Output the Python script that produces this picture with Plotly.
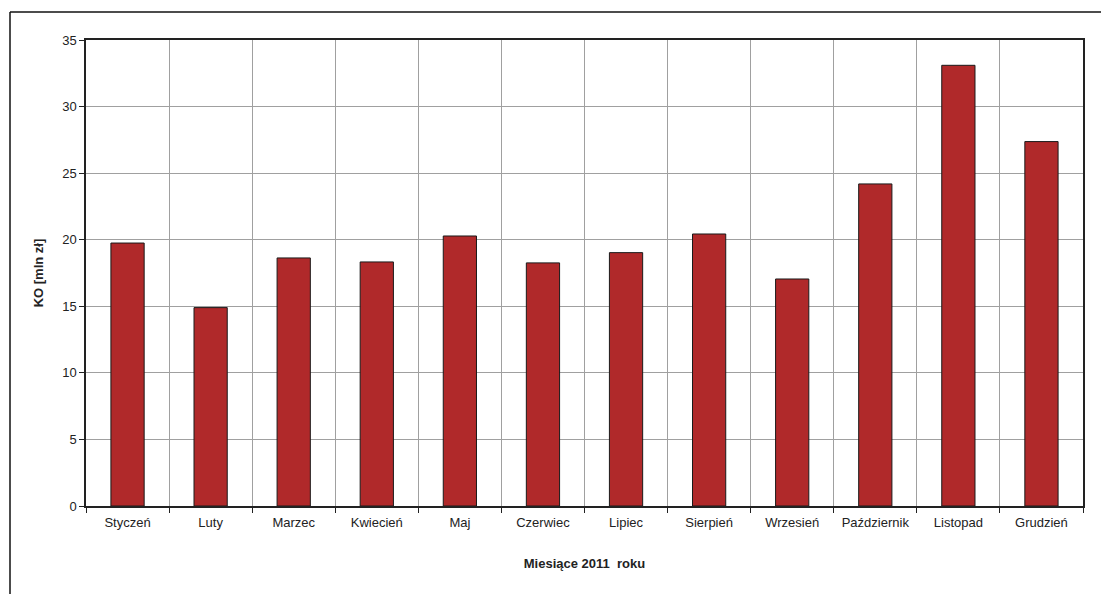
import plotly.graph_objects as go

months = ["Styczeń", "Luty", "Marzec", "Kwiecień", "Maj", "Czerwiec",
          "Lipiec", "Sierpień", "Wrzesień", "Październik", "Listopad", "Grudzień"]
ko_values = [19.75, 14.9, 18.63, 18.33, 20.28, 18.26,
             19.03, 20.43, 17.05, 24.19, 33.1, 27.37]
y_ticks = [0, 5, 10, 15, 20, 25, 30, 35]

W, H = 1101, 594
ML, MR, MT, MB = 86, 18, 40, 88
pw, ph = W - ML - MR, H - MT - MB

def px_x(x):
    return (x - ML) / pw

def px_y(y):
    return (H - MB - y) / ph

fig = go.Figure(go.Bar(
    x=months, y=ko_values, width=0.4,
    marker=dict(color="#B0292A", line=dict(color="#1a1a1a", width=1)),
))

font = "Liberation Sans, Arial, sans-serif"
fig.update_layout(
    width=W, height=H,
    margin=dict(l=ML, r=MR, t=MT, b=MB),
    paper_bgcolor="white", plot_bgcolor="white",
    font=dict(family=font, size=13, color="#222"),
    showlegend=False,
    bargap=0.6,
    xaxis=dict(
        tickson="boundaries", ticks="outside", ticklen=5, tickcolor="#222",
        ticklabelstandoff=4,
        showgrid=True, gridcolor="#a0a0a0", gridwidth=1,
        showline=True, linecolor="#222", linewidth=1.5, mirror=True,
        tickfont=dict(size=13),
        title=dict(text="<b>Miesiące 2011  roku</b>", font=dict(size=13), standoff=30),
    ),
    yaxis=dict(
        range=[0, 35], tickvals=y_ticks, ticks="outside", ticklen=5, tickcolor="#222",
        showgrid=True, gridcolor="#a0a0a0", gridwidth=1,
        showline=True, linecolor="#222", linewidth=1.5, mirror=True,
        zeroline=False,
        tickfont=dict(size=13),
        title=dict(text="<b>KO [mln zł]</b>", font=dict(size=13), standoff=16),
    ),
    shapes=[
        dict(type="line", xref="paper", yref="paper",
             x0=px_x(10), x1=px_x(10), y0=px_y(12), y1=px_y(H + 5),
             line=dict(color="#111", width=1.5)),
        dict(type="line", xref="paper", yref="paper",
             x0=px_x(10), x1=px_x(W + 5), y0=px_y(12), y1=px_y(12),
             line=dict(color="#111", width=1.5)),
    ],
)

fig.write_html("out.html")
